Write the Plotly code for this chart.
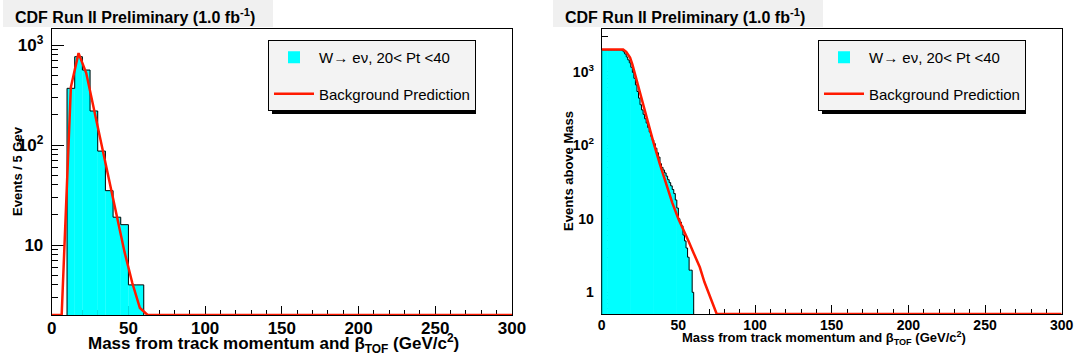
import numpy as np
import plotly.graph_objects as go

# ---------------- data ----------------
# Left panel: events per 5 GeV bin
left_edges = [10, 15, 20, 25, 30, 35, 40, 45, 50, 55, 60]
left_counts = [369, 764, 562, 219, 87, 35, 19, 16, 4, 4]
left_bkg_x = [0, 6.5, 12.5, 17.5, 22.5, 27.5, 32.5, 37.5, 42.5, 47.5, 52.5, 57.5, 62.5, 300]
left_bkg_y = [0, 0, 380, 830, 525, 230, 95, 41, 19, 8.5, 4.2, 2.35, 0, 0]

# Right panel: events above mass, 1 GeV bins from 0 to 60
right_edges = list(range(0, 61))
right_counts = [1975] * 13 + [1950, 1862, 1738, 1585, 1445, 1318, 1148, 977, 813, 661,
                              537, 437, 355, 302, 263, 229, 200, 174, 151, 132,
                              117, 105, 91, 79, 69, 56, 50, 46, 42, 38,
                              34, 31, 28, 25, 22, 18, 14, 10, 9, 8,
                              6, 5, 4, 3, 2, 2, 1]
right_bkg_x = [0, 14, 16, 18.5, 20, 22.8, 25, 27.2, 30, 33.7, 38, 42.4, 46, 50, 53,
               56.6, 60, 64, 67, 70, 73, 75, 300]
right_bkg_y = [1995, 1995, 1862, 1549, 1259, 759, 501, 331, 200, 110, 55, 28.2, 16.6, 10,
               7.1, 5.0, 3.4, 2.19, 1.38, 0.93, 0.63, 0, 0]

x_ticks = [0, 50, 100, 150, 200, 250, 300]
left_ytick_vals = [10, 100, 1000]
left_ytick_text = ["10", "10<sup>2</sup>", "10<sup>3</sup>"]
right_ytick_vals = [1, 10, 100, 1000]
right_ytick_text = ["1", "10", "10<sup>2</sup>", "10<sup>3</sup>"]

hist_label = "W\u2192 e\u03bd, 20&lt; Pt &lt;40"
bkg_label = "Background Prediction"
title_text = "CDF Run II Preliminary (1.0 fb<sup>-1</sup>)"
xtitle = "Mass from track momentum and \u03b2<sub>TOF</sub> (GeV/c<sup>2</sup>)"

LEFT_YMIN, LEFT_YMAX = 2.0, 10 ** 3.157
RIGHT_YMIN, RIGHT_YMAX = 10 ** -0.295, 10 ** 3.58

FONT = "Liberation Sans, Arial, Helvetica, sans-serif"
CYAN = "#00ffff"
RED = "#ff1a00"


def step_outline(edges, counts, below):
    xs = [edges[0]] + list(edges[:-1]) + [edges[-1]]
    ys = [below] + list(counts) + [below]
    return xs, ys


def floor_zero(vals, floor):
    v = np.asarray(vals, dtype=float)
    return np.where(v > 0, v, floor)


fig = go.Figure()

# ---- left panel ----
le = np.array(left_edges, dtype=float)
fig.add_trace(go.Bar(x=(le[:-1] + le[1:]) / 2, y=left_counts, width=np.diff(le) * 1.03,
                     marker=dict(color=CYAN, line=dict(width=0)), name=hist_label,
                     legend="legend", legendgroup="h", xaxis="x", yaxis="y"))
sx, sy = step_outline(left_edges, left_counts, LEFT_YMIN / 10)
fig.add_trace(go.Scatter(x=sx, y=sy, mode="lines", line=dict(color="black", width=1, shape="hv"),
                         showlegend=False, hoverinfo="skip", xaxis="x", yaxis="y"))
fig.add_trace(go.Scatter(x=left_bkg_x, y=floor_zero(left_bkg_y, LEFT_YMIN), mode="lines",
                         line=dict(color=RED, width=2.5), name=bkg_label,
                         legend="legend", legendgroup="b", xaxis="x", yaxis="y"))

# ---- right panel ----
re_ = np.array(right_edges, dtype=float)
fig.add_trace(go.Bar(x=(re_[:-1] + re_[1:]) / 2, y=right_counts, width=np.diff(re_) * 1.15,
                     marker=dict(color=CYAN, line=dict(width=0)), name=hist_label,
                     legend="legend2", legendgroup="h2", xaxis="x2", yaxis="y2"))
sx, sy = step_outline(right_edges, right_counts, RIGHT_YMIN / 10)
fig.add_trace(go.Scatter(x=sx, y=sy, mode="lines", line=dict(color="black", width=1, shape="hv"),
                         showlegend=False, hoverinfo="skip", xaxis="x2", yaxis="y2"))
fig.add_trace(go.Scatter(x=right_bkg_x, y=floor_zero(right_bkg_y, RIGHT_YMIN), mode="lines",
                         line=dict(color=RED, width=2.5), name=bkg_label,
                         legend="legend2", legendgroup="b2", xaxis="x2", yaxis="y2"))


def xaxis_cfg(domain, anchor, fsize):
    return dict(domain=domain, anchor=anchor, range=[0, 300], tickvals=x_ticks, automargin=False,
                ticks="inside", ticklen=9, tickwidth=1, tickcolor="black",
                minor=dict(tickvals=[v for v in range(0, 301, 10) if v % 50], ticks="inside",
                           ticklen=5, tickcolor="black", showgrid=False),
                showline=True, mirror=True, linecolor="black", linewidth=1,
                showgrid=False, zeroline=False, layer="below traces", ticklabelstandoff=-2,
                tickfont=dict(family=FONT, size=fsize, color="black", weight="bold"))


def yaxis_cfg(domain, anchor, rng, tv, tt, minor_vals, fsize):
    return dict(domain=domain, anchor=anchor, type="log", range=[np.log10(rng[0]), np.log10(rng[1])],
                tickvals=tv, ticktext=tt, ticks="inside", ticklen=12, tickwidth=1, tickcolor="black",
                minor=dict(tickvals=minor_vals, ticks="inside", ticklen=6, tickcolor="black", showgrid=False),
                showline=True, mirror=True, linecolor="black", linewidth=1, automargin=False,
                showgrid=False, zeroline=False, layer="below traces", ticklabelstandoff=4,
                tickfont=dict(family=FONT, size=fsize, color="black", weight="bold"))


left_minor = [m * 10 ** d for d in range(0, 4) for m in range(2, 10)]
right_minor = [m * 10 ** d for d in range(-1, 4) for m in range(2, 10)]

W, H = 1076, 360
legend_common = dict(y=1 - 40 / H, xanchor="left", yanchor="top", bgcolor="#f3f3f3",
                     bordercolor="black", borderwidth=1, itemwidth=40, tracegroupgap=14,
                     font=dict(family=FONT, size=15, color="black"))
fig.update_layout(
    template="none",
    width=W, height=H, margin=dict(l=0, r=0, t=0, b=0, autoexpand=False),
    paper_bgcolor="white", plot_bgcolor="white", barmode="overlay",
    xaxis=xaxis_cfg([51.7 / W, 512 / W], "y", 17),
    yaxis=yaxis_cfg([45 / H, 330.7 / H], "x", [LEFT_YMIN, LEFT_YMAX], left_ytick_vals, left_ytick_text, left_minor, 17),
    xaxis2=xaxis_cfg([601.7 / W, 1061.7 / W], "y2", 14),
    yaxis2=yaxis_cfg([46 / H, 331 / H], "x2", [RIGHT_YMIN, RIGHT_YMAX], right_ytick_vals, right_ytick_text, right_minor, 14),
    legend=dict(x=268 / W, **legend_common),
    legend2=dict(x=818 / W, **legend_common),
)

shapes = []
annotations = []
for x0, x1 in [(3, 273), (553, 823)]:
    shapes.append(dict(type="rect", xref="paper", yref="paper", x0=x0 / W, x1=x1 / W,
                       y0=1 - 27 / H, y1=1, fillcolor="#f0f0f0", line=dict(width=0), layer="below"))
    annotations.append(dict(text=title_text, xref="paper", yref="paper", x=(x0 + 10) / W, y=1 - 16 / H,
                            xanchor="left", yanchor="middle", showarrow=False,
                            font=dict(family=FONT, size=16, color="black", weight="bold")))
# legend shadows
for lx in [268, 818]:
    shapes.append(dict(type="rect", xref="paper", yref="paper", x0=(lx + 4) / W, x1=(lx + 208) / W,
                       y0=1 - 114 / H, y1=1 - 44 / H, fillcolor="black", line=dict(width=0), layer="above"))

annotations += [
    dict(text=xtitle, xref="paper", yref="paper", x=273 / W, y=1 - 343 / H, xanchor="center", yanchor="middle",
         showarrow=False, font=dict(family=FONT, size=17, color="black", weight="bold")),
    dict(text="Events / 5 Gev", xref="paper", yref="paper", x=17 / W, y=1 - 171 / H, textangle=-90,
         xanchor="center", yanchor="middle", showarrow=False,
         font=dict(family=FONT, size=13, color="black", weight="bold")),
    dict(text=xtitle, xref="paper", yref="paper", x=824 / W, y=1 - 338 / H, xanchor="center", yanchor="middle",
         showarrow=False, font=dict(family=FONT, size=13, color="black", weight="bold")),
    dict(text="Events above Mass", xref="paper", yref="paper", x=568 / W, y=1 - 171 / H, textangle=-90,
         xanchor="center", yanchor="middle", showarrow=False,
         font=dict(family=FONT, size=13, color="black", weight="bold")),
]
fig.update_layout(shapes=shapes, annotations=annotations)

fig.write_html("out.html", config={"displayModeBar": False},
               post_script="document.body.style.margin='0px';")
